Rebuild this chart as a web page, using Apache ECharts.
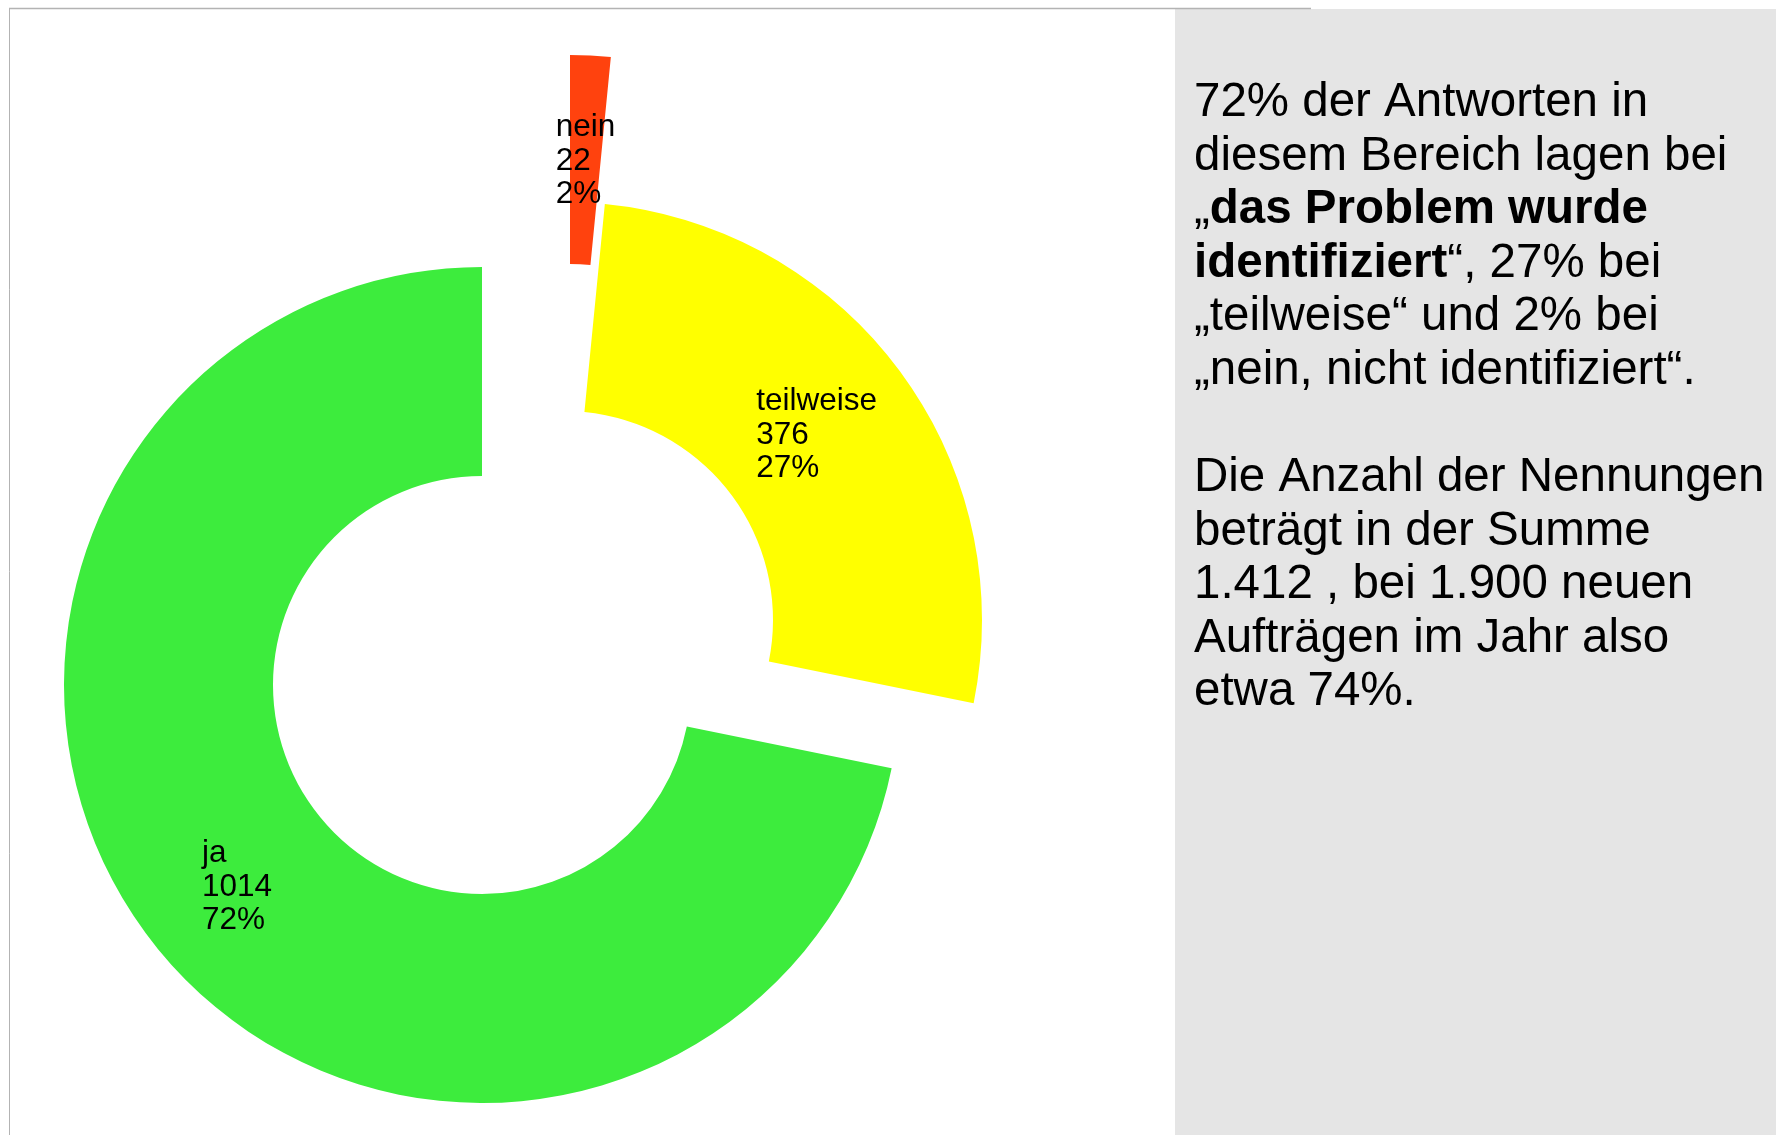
<!DOCTYPE html>
<html>
<head>
<meta charset="utf-8">
<script src="https://cdn.jsdelivr.net/npm/echarts@6/dist/echarts.min.js"></script>
<style>
  html, body { margin: 0; padding: 0; background: #ffffff; }
  #chart { width: 1776px; height: 1135px; }
</style>
</head>
<body>
<div id="chart"></div>
<script>
// ---- data ----
const categories = ['nein', 'teilweise', 'ja'];
const counts = [22, 376, 1014];

const noteParagraph1 = [
  '72% der Antworten in',
  'diesem Bereich lagen bei',
  '„{b|das Problem wurde}',
  '{b|identifiziert}“, 27% bei',
  '„teilweise“ und 2% bei',
  '„nein, nicht identifiziert“.'
];
const noteParagraph2 = [
  'Die Anzahl der Nennungen',
  'beträgt in der Summe',
  '1.412 , bei 1.900 neuen',
  'Aufträgen im Jahr also',
  'etwa 74%.'
];

// ---- styles / layout ----
const sliceColors = { 'nein': '#ff420e', 'teilweise': '#ffff00', 'ja': '#3dec3d' };
// explode displacement of each slice (pixels, dx / dy)
const sliceExplode = { 'nein': [88, -212], 'teilweise': [82, -65], 'ja': [0, 0] };
const labelNudge = { 'nein': [0, 4], 'teilweise': [-2, 3], 'ja': [0, 2] };
const PIE_CENTER = [482, 685];
const FONT = 'Liberation Sans';
const LABEL_SIZE = 31.5;
const LABEL_LH = 33.5;

const chart = echarts.init(document.getElementById('chart'), null, { renderer: 'canvas' });

// One pie series per slice so each slice can be exploded separately;
// all series share radius / angles so the slice geometry comes from the library.
const series = categories.map(function (cat) {
  return {
    type: 'pie',
    center: [PIE_CENTER[0] + sliceExplode[cat][0], PIE_CENTER[1] + sliceExplode[cat][1]],
    radius: [209, 418],
    startAngle: 90,
    clockwise: true,
    avoidLabelOverlap: false,
    animation: false,
    silent: true,
    itemStyle: { borderWidth: 0 },
    emphasis: { disabled: true },
    labelLine: { show: false },
    label: {
      show: false,
      position: 'inside',
      formatter: function (p) {
        return '{t|' + p.name + '}\n{t|' + p.value + '}\n{t|' + Math.round(p.percent) + '%}';
      },
      fontFamily: FONT,
      fontSize: LABEL_SIZE,
      lineHeight: LABEL_LH,
      color: '#000000',
      rich: {
        t: { fontFamily: FONT, fontSize: LABEL_SIZE, lineHeight: LABEL_LH, color: '#000000', align: 'left' }
      }
    },
    data: categories.map(function (name, j) {
      const own = name === cat;
      return {
        name: name,
        value: counts[j],
        itemStyle: { color: own ? sliceColors[name] : 'rgba(0,0,0,0)', borderWidth: 0 },
        label: { show: own, offset: labelNudge[name] }
      };
    })
  };
});

const TXT_SIZE = 47.5;
const TXT_LH = 53.5;
const textStyleBase = {
  fontFamily: FONT,
  fontSize: TXT_SIZE,
  lineHeight: TXT_LH,
  fill: '#000000'
};

chart.setOption({
  backgroundColor: '#ffffff',
  animation: false,
  series: series,
  graphic: [
    { type: 'rect', z: -10, shape: { x: 1175, y: 9, width: 601, height: 1126 }, style: { fill: '#e5e5e5' } },
    { type: 'line', z: -5, shape: { x1: 9, y1: 8.5, x2: 1311, y2: 8.5 }, style: { stroke: '#b3b3b3', lineWidth: 1.5 } },
    { type: 'line', z: -5, shape: { x1: 9.5, y1: 8, x2: 9.5, y2: 1135 }, style: { stroke: '#b3b3b3', lineWidth: 1 } },
    {
      type: 'text', z: 10, x: 1194, y: 76.5,
      style: Object.assign({}, textStyleBase, {
        text: noteParagraph1.join('\n'),
        textAlign: 'left',
        textVerticalAlign: 'top',
        rich: {
          b: { fontFamily: FONT, fontSize: TXT_SIZE, lineHeight: TXT_LH, fontWeight: 'bold', fill: '#000000' }
        }
      })
    },
    {
      type: 'text', z: 10, x: 1194, y: 451.5,
      style: Object.assign({}, textStyleBase, {
        text: noteParagraph2.join('\n'),
        textAlign: 'left',
        textVerticalAlign: 'top'
      })
    }
  ]
});
</script>
</body>
</html>
